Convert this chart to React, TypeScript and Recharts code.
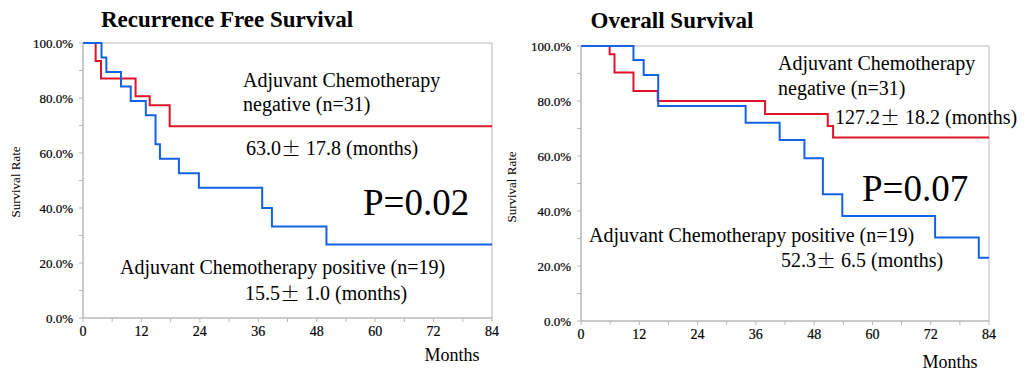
import { LineChart, Line, XAxis, YAxis, ReferenceArea } from 'recharts';

// months at each step and survival (%) after the step
const rfsNegMonths = [0, 2.6, 3.7, 10.8, 13.7, 17.8, 84];
const rfsNegRate = [100, 93.5, 87.1, 80.6, 77.4, 69.7, 69.7];
const rfsPosMonths = [0, 3.8, 4.8, 7.8, 9.8, 12.9, 14.9, 15.8, 19.7, 23.8, 36.8, 38.8, 50, 84];
const rfsPosRate = [100, 94.7, 89.5, 84.2, 78.9, 73.7, 63.2, 57.9, 52.6, 47.4, 40.0, 33.3, 26.7, 26.7];

const osNegMonths = [0, 5.9, 6.9, 10.8, 15.8, 37.9, 50.8, 51.9, 84];
const osNegRate = [100, 97.0, 90.4, 83.6, 80.0, 75.3, 70.9, 66.7, 66.7];
const osPosMonths = [0, 10.8, 12.9, 15.9, 33.9, 40.9, 46, 49.8, 53.8, 72.9, 81.9, 84];
const osPosRate = [100, 94.9, 89.5, 78.2, 72.1, 65.8, 59.2, 46.1, 38.2, 30.4, 23.0, 23.0];

const xTicks = [0, 6, 12, 18, 24, 30, 36, 42, 48, 54, 60, 66, 72, 78, 84];
const yTicks = [0, 10, 20, 30, 40, 50, 60, 70, 80, 90, 100];

const RED = '#e01428';
const BLUE = '#1462e4';
const GRAY = '#b8b8b8';
const SERIF = '"Liberation Serif", "Times New Roman", serif';

const toPoints = (months: number[], rate: number[]) =>
  months.map((m, i) => ({ month: m, rate: rate[i] }));

type KMProps = {
  neg: { month: number; rate: number }[];
  pos: { month: number; rate: number }[];
  width: number;
  height: number;
  margin: { top: number; right: number; bottom: number; left: number };
  yWidth: number;
};

function KMChart({ neg, pos, width, height, margin, yWidth }: KMProps) {
  return (
    <LineChart width={width} height={height} margin={margin}>
      <XAxis
        type="number"
        dataKey="month"
        domain={[0, 84]}
        ticks={xTicks}
        interval={0}
        allowDuplicatedCategory={false}
        tickFormatter={(v) => (v % 12 === 0 ? String(v) : '')}
        tick={{ fontSize: 14, fill: '#000', fontFamily: SERIF, stroke: '#000', strokeWidth: 0.2 }}
        stroke={GRAY}
        tickSize={4}
        tickMargin={4}
        height={30}
      />
      <YAxis
        type="number"
        dataKey="rate"
        domain={[0, 100]}
        ticks={yTicks}
        interval={0}
        tickFormatter={(v) => (v % 20 === 0 ? `${v.toFixed(1)}%` : '')}
        tick={{ fontSize: 13, fill: '#000', fontFamily: SERIF, stroke: '#000', strokeWidth: 0.2 }}
        stroke={GRAY}
        tickSize={4}
        tickMargin={6}
        width={yWidth}
      />
      <ReferenceArea x1={0} x2={84} y1={0} y2={100} fill="none" stroke={GRAY} strokeWidth={1} />
      <Line
        data={neg}
        dataKey="rate"
        type="stepAfter"
        stroke={RED}
        strokeWidth={2}
        dot={false}
        isAnimationActive={false}
      />
      <Line
        data={pos}
        dataKey="rate"
        type="stepAfter"
        stroke={BLUE}
        strokeWidth={2}
        dot={false}
        isAnimationActive={false}
      />
    </LineChart>
  );
}

const PM = '\u00b1';

export default function App() {
  const txt = { fontFamily: SERIF, fill: '#000' } as const;
  return (
    <div style={{ position: 'fixed', left: 0, top: 0, width: 1029, height: 372, background: '#fff' }}>
      <div style={{ position: 'absolute', left: 0, top: 0 }}>
        <KMChart
          neg={toPoints(rfsNegMonths, rfsNegRate)}
          pos={toPoints(rfsPosMonths, rfsPosRate)}
          width={510}
          height={372}
          margin={{ top: 43, right: 18, bottom: 24, left: 0 }}
          yWidth={83}
        />
      </div>
      <div style={{ position: 'absolute', left: 510, top: 0 }}>
        <KMChart
          neg={toPoints(osNegMonths, osNegRate)}
          pos={toPoints(osPosMonths, osPosRate)}
          width={519}
          height={372}
          margin={{ top: 46, right: 40, bottom: 21, left: 0 }}
          yWidth={71}
        />
      </div>
      <svg
        width={1029}
        height={372}
        style={{ position: 'absolute', left: 0, top: 0, pointerEvents: 'none' }}
      >
        {/* left panel */}
        <text x={227} y={19} textAnchor="middle" dominantBaseline="central" fontSize={23} fontWeight="bold" {...txt}>
          Recurrence Free Survival
        </text>
        <text x={15} y={182} transform="rotate(-90 15 182)" textAnchor="middle" dominantBaseline="central" fontSize={13} {...txt}>
          Survival Rate
        </text>
        <text x={452} y={355} textAnchor="middle" dominantBaseline="central" fontSize={18} {...txt}>
          Months
        </text>
        <text x={243} y={80} dominantBaseline="central" fontSize={20} {...txt}>Adjuvant Chemotherapy</text>
        <text x={243} y={104} dominantBaseline="central" fontSize={20} {...txt}>negative (n=31)</text>
        <text x={246} y={148} dominantBaseline="central" fontSize={20} {...txt}>
          63.0<tspan fontFamily='"Noto Sans CJK JP"' fontWeight={300}>{PM}</tspan> 17.8 (months)
        </text>
        <text x={363} y={202} dominantBaseline="central" fontSize={37} {...txt}>P=0.02</text>
        <text x={120} y={267} dominantBaseline="central" fontSize={20} {...txt}>
          Adjuvant Chemotherapy positive (n=19)
        </text>
        <text x={245} y={293} dominantBaseline="central" fontSize={20} {...txt}>
          15.5<tspan fontFamily='"Noto Sans CJK JP"' fontWeight={300}>{PM}</tspan> 1.0 (months)
        </text>

        {/* right panel */}
        <text x={672} y={20} textAnchor="middle" dominantBaseline="central" fontSize={23} fontWeight="bold" {...txt}>
          Overall Survival
        </text>
        <text x={511} y={187} transform="rotate(-90 511 187)" textAnchor="middle" dominantBaseline="central" fontSize={13} {...txt}>
          Survival Rate
        </text>
        <text x={950} y={362} textAnchor="middle" dominantBaseline="central" fontSize={18} {...txt}>
          Months
        </text>
        <text x={778} y={63} dominantBaseline="central" fontSize={20} {...txt}>Adjuvant Chemotherapy</text>
        <text x={778} y={88} dominantBaseline="central" fontSize={20} {...txt}>negative (n=31)</text>
        <text x={835} y={117} dominantBaseline="central" fontSize={20} {...txt}>
          127.2<tspan fontFamily='"Noto Sans CJK JP"' fontWeight={300}>{PM}</tspan> 18.2 (months)
        </text>
        <text x={862} y={188} dominantBaseline="central" fontSize={37} {...txt}>P=0.07</text>
        <text x={589} y={235} dominantBaseline="central" fontSize={20} {...txt}>
          Adjuvant Chemotherapy positive (n=19)
        </text>
        <text x={781} y={260} dominantBaseline="central" fontSize={20} {...txt}>
          52.3<tspan fontFamily='"Noto Sans CJK JP"' fontWeight={300}>{PM}</tspan> 6.5 (months)
        </text>
      </svg>
    </div>
  );
}
